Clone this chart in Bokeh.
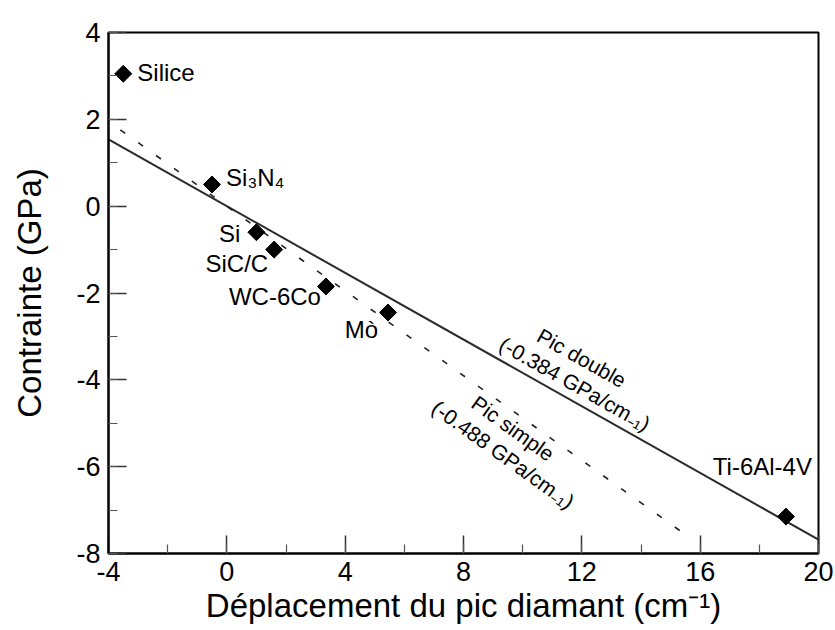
import numpy as np
from bokeh.plotting import figure
from bokeh.models import (ColumnDataSource, SingleIntervalTicker, Range1d,
                          CustomJSTickFormatter)
from bokeh.core.properties import value
from bokeh.embed import file_html
from bokeh.resources import INLINE

# Materials: diamond Raman peak shift (cm-1) vs. stress (GPa)
materials = ["Silice", "Si\u2083N\u2084", "Si", "SiC/C", "WC-6Co", "M\u00f2", "Ti-6Al-4V"]
shift = [-3.5, -0.5, 1.0, 1.6, 3.35, 5.45, 18.9]
stress = [3.05, 0.5, -0.6, -1.0, -1.85, -2.45, -7.15]

# Linear calibrations (slope in GPa per cm-1)
slope_double = -0.384
intercept_double = 0.0
span_double = [-4.0, 20.0]
slope_simple = -0.488
intercept_simple = 0.0
span_simple = [-3.6, 15.6]

x_ticks_interval = 4
y_ticks_interval = 2

FONT = "Liberation Sans"
X0, X1, Y0, Y1 = -4, 20, -8, 4
FW, FH = 710, 521
px_x = FW / (X1 - X0)
px_y = FH / (Y1 - Y0)

p = figure(frame_width=FW, frame_height=FH,
           min_border_left=108, min_border_right=17,
           min_border_top=32, min_border_bottom=77,
           x_range=Range1d(X0, X1), y_range=Range1d(Y0, Y1),
           output_backend="svg", toolbar_location=None,
           background_fill_color="white", border_fill_color="white")

p.grid.visible = False
p.outline_line_color = "black"
p.outline_line_width = 2

for ax, interval in ((p.xaxis[0], x_ticks_interval), (p.yaxis[0], y_ticks_interval)):
    ax.ticker = SingleIntervalTicker(interval=interval, num_minor_ticks=2)
    ax.formatter = CustomJSTickFormatter(code="return tick.toFixed(0)")
    ax.axis_line_color = "black"
    ax.axis_line_width = 2
    ax.major_tick_in = 18
    ax.major_tick_out = 0
    ax.minor_tick_in = 9
    ax.minor_tick_out = 0
    ax.major_tick_line_color = "#333333"
    ax.minor_tick_line_color = "#555555"
    ax.major_tick_line_width = 1.5
    ax.minor_tick_line_width = 1.2
    ax.major_label_text_font = FONT
    ax.major_label_text_font_size = "27px"
    ax.major_label_text_color = "black"
    ax.axis_label_text_font = FONT
    ax.axis_label_text_font_style = "normal"
    ax.axis_label_text_font_size = "33px"
    ax.axis_label_text_color = "black"

p.xaxis.axis_label = "D\u00e9placement du pic diamant (cm\u207b\u00b9)"
p.yaxis.axis_label = "Contrainte (GPa)"
p.xaxis.major_label_standoff = 8
p.xaxis.axis_label_standoff = 3
p.yaxis.major_label_standoff = 8
p.yaxis.axis_label_standoff = 25

# Fit lines
xd = np.array(span_double)
p.line(xd, slope_double * xd + intercept_double, line_color="#2a2a2a", line_width=2)
xs = np.array(span_simple)
p.line(xs, slope_simple * xs + intercept_simple, line_color="#222222",
       line_width=1.6, line_dash="6 16")

# Data points
src = ColumnDataSource(dict(x=shift, y=stress, name=materials,
                            dx=[14, 14, -16, -6, -5, -10, 26],
                            dy=[-1, -7, 1, 14, 10, 17, -50],
                            align=["left", "left", "right", "right", "right", "right", "right"]))
p.scatter("x", "y", source=src, marker="square", angle=np.pi / 4, size=12,
          fill_color="black", line_color="black")
p.text("x", "y", text="name", source=src, x_offset="dx", y_offset="dy",
       text_align="align", text_baseline="alphabetic",
       text_font=value(FONT), text_font_size="24px", text_color="black")


def line_label(slope, intercept, x_anchor, normal_px, txt):
    """Place rotated text parallel to a fit line, shifted normal to it by normal_px."""
    theta = np.arctan(-slope * px_y / px_x)
    y_anchor = slope * x_anchor + intercept
    dx_px = np.sin(theta) * normal_px
    dy_px = np.cos(theta) * normal_px
    xl = x_anchor + dx_px / px_x
    yl = y_anchor + dy_px / px_y
    p.text([xl], [yl], text=[txt], angle=-theta,
           text_align="center", text_baseline="middle",
           text_font=value(FONT), text_font_size="21px", text_color="black")


line_label(slope_double, intercept_double, 11.3, 42, "Pic double")
line_label(slope_double, intercept_double, 11.5, 16, "(-0.384 GPa/cm\u208b\u2081)")
line_label(slope_simple, intercept_simple, 9.95, -14, "Pic simple")
line_label(slope_simple, intercept_simple, 10.15, -41, "(-0.488 GPa/cm\u208b\u2081)")

open("out.html", "w").write(file_html(p, INLINE))
